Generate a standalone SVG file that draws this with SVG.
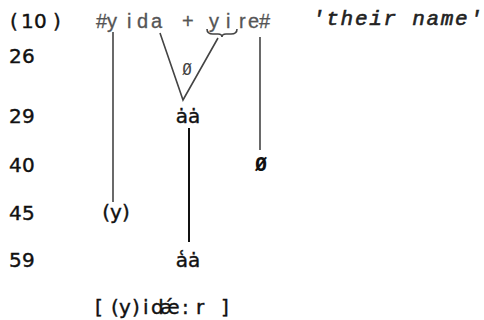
<svg xmlns="http://www.w3.org/2000/svg" width="484" height="320" viewBox="0 0 484 320">
<style>
.lab{font-family:"DejaVu Sans","Liberation Sans",sans-serif;font-size:20px;fill:#111;stroke:#111;stroke-width:0.4}
.top{font-family:"Liberation Sans","DejaVu Sans",sans-serif;font-size:20px;fill:#555;stroke:#555;stroke-width:0.3}
.gloss{font-family:"Liberation Mono","DejaVu Sans Mono",monospace;font-style:italic;font-size:21px;fill:#222;stroke:#222;stroke-width:0.6}
.node{font-family:"DejaVu Sans","Liberation Sans",sans-serif;font-size:20px;fill:#111;stroke:#111;stroke-width:0.4}
.ln{stroke:#444;stroke-width:1.6;fill:none}
.lnk{stroke:#111;stroke-width:2;fill:none}
</style>
<rect width="484" height="320" fill="#fff"/>
<g id="row-labels">
<text class="lab" x="10 21 34 53" y="28">(10)</text>
<text class="lab" x="9 22" y="63">26</text>
<text class="lab" x="9 22" y="123">29</text>
<text class="lab" x="9 22" y="172">40</text>
<text class="lab" x="9 22" y="220">45</text>
<text class="lab" x="9 22" y="267">59</text>
</g>
<g id="input">
<text class="top" x="96 107 127 137 151 182 209 226 239 248 259" y="28">#yida+yire#</text>
</g>
<g id="gloss">
<text class="gloss" x="312" y="25" textLength="170" lengthAdjust="spacing">'their name'</text>
</g>
<g id="connectors">
<line class="ln" x1="113" y1="32" x2="113" y2="202"/>
<polyline class="ln" points="160,33 183,100 218,38"/>
<path class="ln" d="M207,29 Q207,34 213,34 L218,34 Q222,34 222,37 Q222,34 226,34 L231,34 Q237,34 237,29"/>
<line class="ln" x1="260" y1="37" x2="260" y2="150"/>
<line class="lnk" x1="189" y1="128" x2="189" y2="242"/>
</g>
<g id="zero-26">
<text x="187" y="75" text-anchor="middle" style="font-family:'DejaVu Sans Mono',monospace;font-size:16px;fill:#444">Ø</text>
</g>
<g id="node-29">
<text class="node" x="188" y="123" text-anchor="middle">ȧȧ</text>
</g>
<g id="zero-40">
<text x="261" y="171" text-anchor="middle" style="font-family:'DejaVu Sans Mono',monospace;font-weight:bold;font-size:20px;fill:#111">Ø</text>
</g>
<g id="node-45">
<text class="node" x="116" y="219" text-anchor="middle">(y)</text>
</g>
<g id="node-59">
<text class="node" x="188" y="267" text-anchor="middle">a͑ȧ</text>
</g>
<g id="output">
<text class="node" x="95 111 119 132 143 151 160 182 196 221" y="314">[(y)idǽ:r]</text>
</g>
</svg>
